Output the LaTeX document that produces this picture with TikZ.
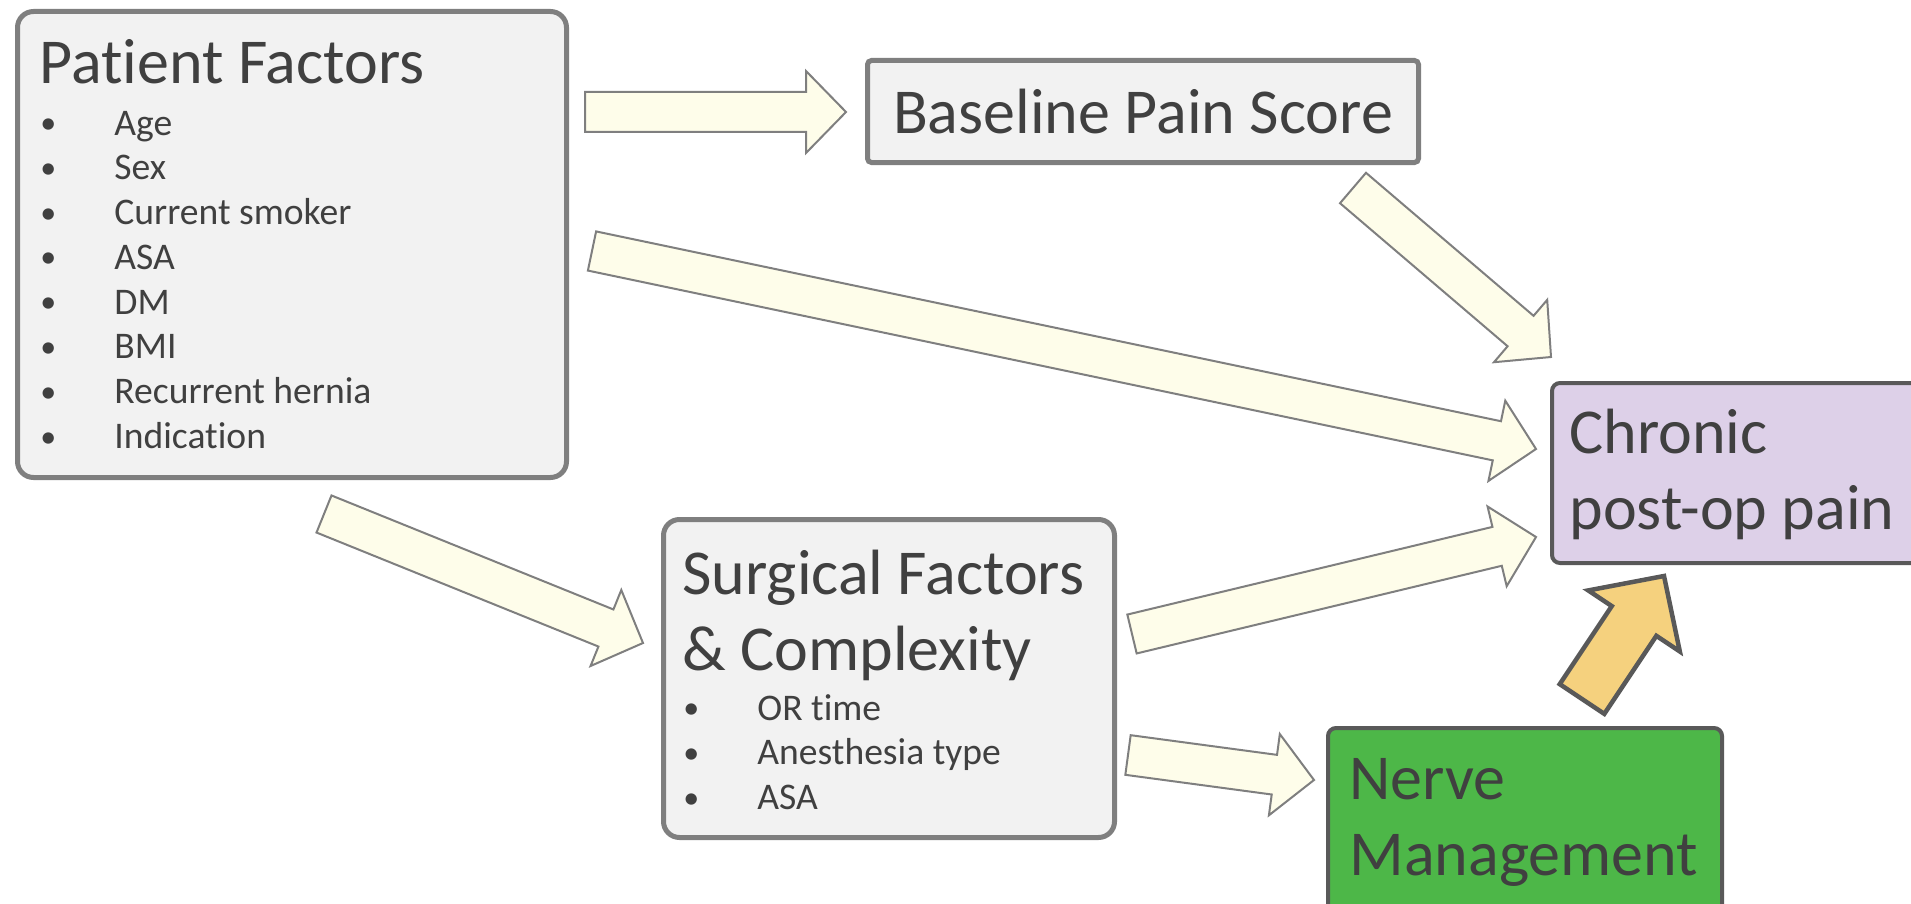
\documentclass[tikz,border=0pt]{standalone}
\usepackage{fontspec}
\setmainfont{Carlito}[Ligatures=NoCommon]
\usetikzlibrary{positioning}
\usetikzlibrary{calc}
\definecolor{boxfill}{HTML}{F2F2F2}
\definecolor{boxline}{HTML}{7F7F7F}
\definecolor{darkline}{HTML}{595959}
\definecolor{txt}{HTML}{404040}
\definecolor{painfill}{HTML}{DDD0E8}
\definecolor{nervefill}{HTML}{4DB748}
\definecolor{flowfill}{HTML}{FEFDEA}
\definecolor{pushfill}{HTML}{F5D17E}
\newcommand\bigfont{\fontsize{32pt}{38pt}\selectfont}
\newcommand\smallfont{\fontsize{18.8pt}{22.4pt}\selectfont}
\newcommand\itm[1]{\makebox[8pt]{\raisebox{0.8pt}{\fontsize{16pt}{16pt}\selectfont •}}\hspace{29pt}#1}
% block arrow: [style]{tail}{tip}{half shaft}{half head}{head length}
\newcommand\blockarrow[6][]{%
  \coordinate (ba-hb) at ($(#3)!#6!(#2)$);
  \draw[#1] ($(#2)!#4!90:(#3)$) -- ($(ba-hb)!#4!90:(#3)$) -- ($(ba-hb)!#5!90:(#3)$) -- (#3)
    -- ($(ba-hb)!#5!-90:(#3)$) -- ($(ba-hb)!#4!-90:(#3)$) -- ($(#2)!#4!-90:(#3)$) -- cycle;
}
\tikzset{factor/.style={draw=boxline, fill=boxfill, line width=2.5pt, rounded corners=8pt, anchor=north west, inner sep=0pt}}
\tikzset{outcome/.style={draw=darkline, line width=2pt, rounded corners=4pt, anchor=north west, inner sep=0pt}}
\tikzset{label/.style={anchor=base west, inner sep=0pt, text=txt}}
\tikzset{flow/.style={draw=boxline, fill=flowfill, line width=1pt}}
\tikzset{push/.style={draw=darkline, fill=pushfill, line width=2.25pt}}

\begin{document}
\begin{tikzpicture}[x=0.5pt, y=-0.5pt]
\useasboundingbox (0,0) rectangle (1911,904);

% boxes
\node (pf) [factor, minimum width=274.5pt, minimum height=233pt] at (15,9) {};
\node (bps) [factor, rounded corners=2pt, minimum width=275.5pt, minimum height=51pt, text=txt, font=\bigfont] at (865,58) {Baseline Pain Score};
\node (sfc) [factor, minimum width=225.5pt, minimum height=159pt] at (661,517) {};
\node (cpp) [outcome, fill=painfill, minimum width=192.5pt, minimum height=90pt] at (1550,381) {};
\node (nm) [outcome, fill=nervefill, minimum width=197pt, minimum height=99pt] at (1326,726) {};

% text in the boxes
\node (pftitle) [label, font=\bigfont] at (39,84) {Patient Factors};
\node (pflist) [label, font=\smallfont] at (40,135) {\begin{tabular}[t]{@{}l@{}}
  \itm{Age}\\ \itm{Sex}\\ \itm{Current smoker}\\ \itm{ASA}\\ \itm{DM}\\ \itm{BMI}\\ \itm{Recurrent hernia}\\ \itm{Indication}
\end{tabular}};
\node (sftitle) [label, font=\bigfont] at (682,594) {\begin{tabular}[t]{@{}l@{}}Surgical Factors\\\& Complexity\end{tabular}};
\node (sflist) [label, font=\smallfont] at (683,720) {\begin{tabular}[t]{@{}l@{}}
  \itm{OR time}\\ \itm{Anesthesia type}\\ \itm{ASA}
\end{tabular}};
\node (cpptext) [label, font=\bigfont] at (1569,453) {\begin{tabular}[t]{@{}l@{}}Chronic\\post-op pain\end{tabular}};
\node (nmtext) [label, font=\bigfont] at (1349,799) {\begin{tabular}[t]{@{}l@{}}Nerve\\Management\end{tabular}};

% arrow ends
\coordinate (pf-bps-s) at (585,112);  \coordinate (pf-bps-e) at (846,112);
\coordinate (pf-cpp-s) at (592,251);  \coordinate (pf-cpp-e) at (1536,449);
\coordinate (bps-cpp-s) at (1353,188); \coordinate (bps-cpp-e) at (1551,357);
\coordinate (pf-sfc-s) at (324,514);  \coordinate (pf-sfc-e) at (643,643);
\coordinate (sfc-cpp-s) at (1132,634); \coordinate (sfc-cpp-e) at (1536,537);
\coordinate (sfc-nm-s) at (1128,755); \coordinate (sfc-nm-e) at (1314,780);
\coordinate (nm-cpp-s) at (1582,699); \coordinate (nm-cpp-e) at (1664,576);

\blockarrow[flow]{pf-bps-s}{pf-bps-e}{10pt}{20.5pt}{20pt}
\blockarrow[flow]{pf-cpp-s}{pf-cpp-e}{10pt}{20.5pt}{20pt}
\blockarrow[flow]{bps-cpp-s}{bps-cpp-e}{10pt}{20.5pt}{20pt}
\blockarrow[flow]{pf-sfc-s}{pf-sfc-e}{10pt}{20.5pt}{20pt}
\blockarrow[flow]{sfc-cpp-s}{sfc-cpp-e}{10pt}{20.5pt}{20pt}
\blockarrow[flow]{sfc-nm-s}{sfc-nm-e}{10pt}{20.5pt}{20pt}
\blockarrow[push]{nm-cpp-s}{nm-cpp-e}{13.4pt}{27.5pt}{27pt}
\end{tikzpicture}
\end{document}
